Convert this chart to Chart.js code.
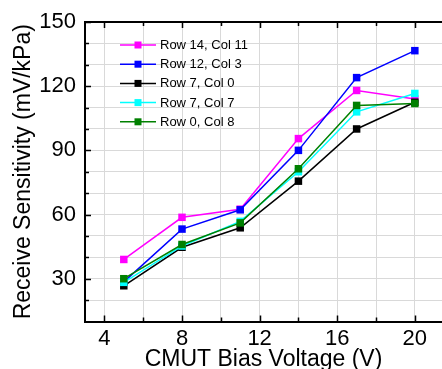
<!DOCTYPE html>
<html>
<head>
<meta charset="utf-8">
<script src="https://cdn.jsdelivr.net/npm/chart.js@4/dist/chart.umd.min.js"></script>
<style>
  html, body { margin: 0; padding: 0; background: #fff; overflow: hidden; }
  #wrap { width: 442px; height: 369px; position: relative; }
</style>
</head>
<body>
<div id="wrap"><canvas id="c" width="442" height="369"></canvas></div>
<script>
// ---- data ----
const biasVoltage = [5, 8, 11, 14, 17, 20];
const seriesNames = ['Row 14, Col 11', 'Row 12, Col 3', 'Row 7, Col 0', 'Row 7, Col 7', 'Row 0, Col 8'];
const row14col11 = [39, 58.7, 62.5, 95.5, 118, 114];
const row12col3  = [28.5, 53.2, 62.2, 90, 124, 136.6];
const row7col0   = [26.7, 44.7, 53.8, 75.6, 100, 112.5];
const row7col7   = [28.3, 45.3, 56.8, 80, 108, 116.6];
const row0col8   = [30, 46, 56.1, 81.4, 111, 111.9];
const seriesColors = ['#ff00ff', '#0000ff', '#000000', '#00ffff', '#008000'];
const xTickLabels = [4, 8, 12, 16, 20];
const yTickLabels = [30, 60, 90, 120, 150];
const xMinorStep = 2;
const yMinorStep = 10;

const FONT = '"Liberation Sans", Arial, sans-serif';
Chart.defaults.color = '#000';
Chart.defaults.font.family = FONT;

const allSeries = [row14col11, row12col3, row7col0, row7col7, row0col8];
const datasets = allSeries.map((vals, i) => ({
  label: seriesNames[i],
  data: biasVoltage.map((x, j) => ({ x: x, y: vals[j] })),
  borderColor: seriesColors[i],
  backgroundColor: seriesColors[i],
  borderWidth: 1.5,
  pointStyle: 'rect',
  pointRadius: 5.3,
  pointBorderWidth: 0,
  pointBackgroundColor: seriesColors[i],
  tension: 0,
  clip: false,
  order: allSeries.length - i
}));

function buildTicks(min, max, step) {
  const out = [];
  for (let v = Math.ceil(min / step) * step; v <= max + 1e-9; v += step) out.push({ value: v });
  return out;
}

// inward tick marks on left, bottom and top axes
const innerTicks = {
  id: 'innerTicks',
  afterDatasetsDraw(chart) {
    const { ctx, chartArea: ca, scales: { x, y } } = chart;
    ctx.save();
    ctx.strokeStyle = '#000';
    ctx.lineWidth = 1.5;
    ctx.beginPath();
    x.ticks.forEach(t => {
      const px = Math.round(x.getPixelForValue(t.value)) + 0.5;
      const len = xTickLabels.includes(t.value) ? 6 : 4;
      ctx.moveTo(px, ca.bottom); ctx.lineTo(px, ca.bottom - len);
      ctx.moveTo(px, ca.top); ctx.lineTo(px, ca.top + len);
    });
    y.ticks.forEach(t => {
      const py = Math.round(y.getPixelForValue(t.value)) + 0.5;
      const len = yTickLabels.includes(t.value) ? 6 : 4;
      ctx.moveTo(ca.left, py); ctx.lineTo(ca.left + len, py);
    });
    ctx.stroke();
    // top frame line
    ctx.lineWidth = 2;
    ctx.beginPath();
    ctx.moveTo(ca.left, ca.top); ctx.lineTo(ca.right, ca.top);
    ctx.stroke();
    ctx.restore();
  }
};

// legend inside the plot area: line + square marker + label
const insideLegend = {
  id: 'insideLegend',
  afterDraw(chart) {
    const ctx = chart.ctx;
    ctx.save();
    chart.data.datasets.forEach((ds, i) => {
      const yy = 45 + i * 19.2;
      ctx.strokeStyle = ds.borderColor;
      ctx.lineWidth = 1.5;
      ctx.beginPath();
      ctx.moveTo(120, yy); ctx.lineTo(156, yy);
      ctx.stroke();
      ctx.fillStyle = ds.borderColor;
      ctx.fillRect(134.5, yy - 3.5, 7, 7);
      ctx.fillStyle = '#000';
      ctx.font = '13px ' + FONT;
      ctx.textAlign = 'left';
      ctx.textBaseline = 'middle';
      ctx.fillText(ds.label, 160, yy + 0.5);
    });
    ctx.restore();
  }
};

new Chart(document.getElementById('c'), {
  type: 'line',
  data: { datasets },
  options: {
    responsive: false,
    animation: false,
    events: [],
    layout: { autoPadding: false, padding: { top: 22, right: 0, left: 0, bottom: 0 } },
    plugins: { legend: { display: false }, tooltip: { enabled: false } },
    scales: {
      x: {
        type: 'linear',
        min: 3,
        max: 21.4,
        afterBuildTicks: s => { s.ticks = buildTicks(4, 20, xMinorStep); },
        afterFit: s => { s.height = 47.5; s.paddingLeft = 0; s.paddingRight = 0; },
        grid: { color: '#d9d9d9', lineWidth: 1, drawTicks: false },
        border: { display: true, color: '#000', width: 2 },
        ticks: {
          autoSkip: false, maxRotation: 0, padding: 4,
          font: { size: 22 },
          callback: v => xTickLabels.includes(v) ? String(v) : ''
        },
        title: {
          display: true, text: 'CMUT Bias Voltage (V)',
          font: { size: 23, lineHeight: 0.83 },
          padding: { top: 0, bottom: 0 }
        }
      },
      y: {
        type: 'linear',
        min: 10,
        max: 150,
        afterBuildTicks: s => { s.ticks = buildTicks(20, 150, yMinorStep); },
        afterFit: s => { s.width = 85; s.paddingTop = 0; s.paddingBottom = 0; },
        grid: { color: '#d9d9d9', lineWidth: 1, drawTicks: false },
        border: { display: true, color: '#000', width: 2 },
        ticks: {
          autoSkip: false, padding: 9,
          font: { size: 22 },
          callback: v => yTickLabels.includes(v) ? String(v) : ''
        },
        title: {
          display: true, text: 'Receive Sensitivity (mV/kPa)',
          font: { size: 23, lineHeight: 1.2 },
          padding: { top: 10, bottom: 0 }
        }
      }
    }
  },
  plugins: [innerTicks, insideLegend]
});
</script>
</body>
</html>
